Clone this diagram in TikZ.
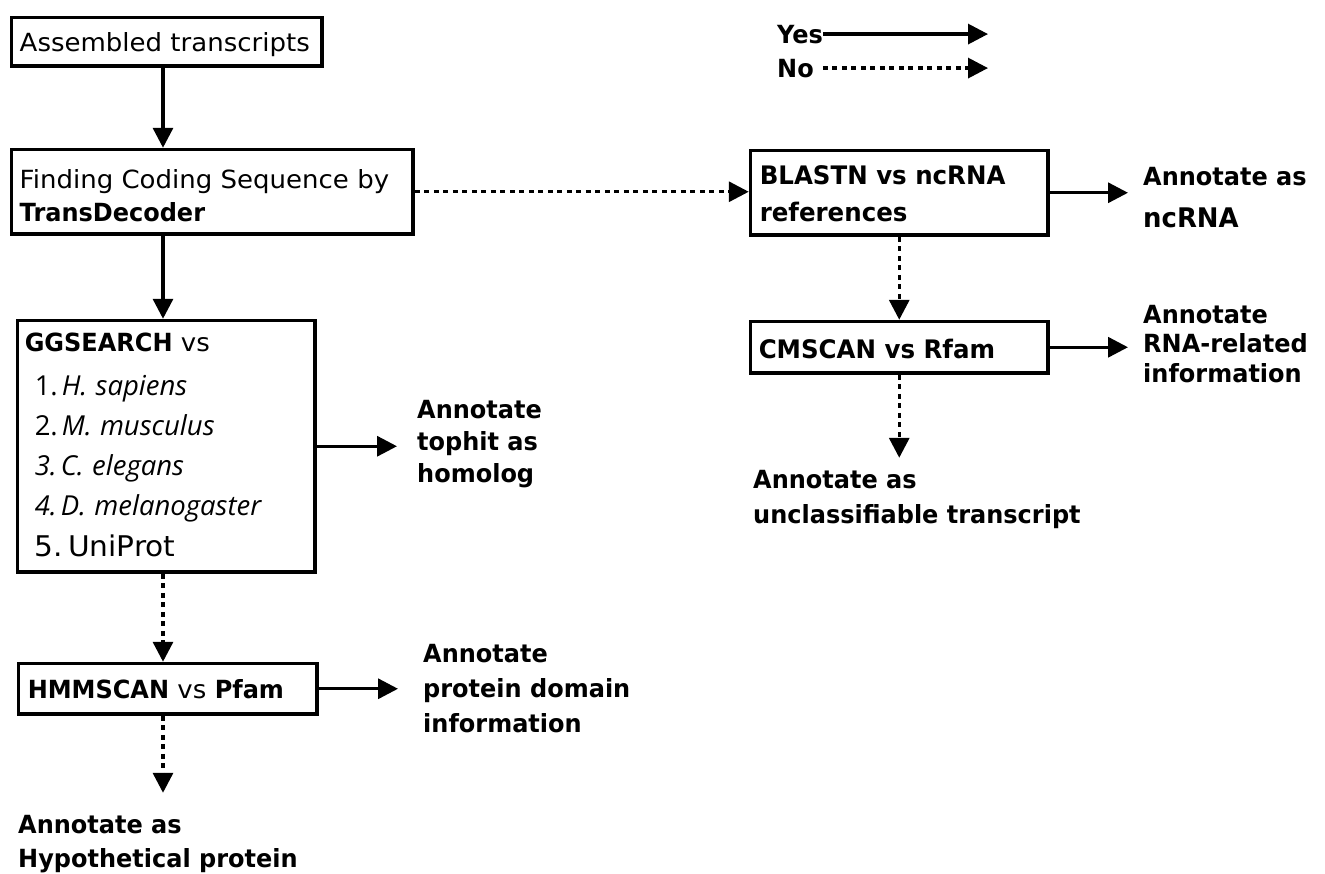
\documentclass[tikz,border=0pt]{standalone}
\usepackage{fontspec}
\setmainfont{DejaVu Sans}[UprightFeatures={FakeStretch=1.04},BoldFeatures={FakeStretch=0.96}]
\newfontfamily\listfont{Open Sans}
\usetikzlibrary{arrows.meta}
\begin{document}
\begin{tikzpicture}[x=1pt,y=-1pt,
  every node/.style={font=\fontsize{25}{33}\selectfont},
  box/.style={draw, line width=3.5pt, rectangle, anchor=north west, align=left, inner ysep=0pt},
  ann/.style={font=\fontsize{25}{33}\selectfont\bfseries, align=left, inner sep=0pt},
  yes/.style={line width=3.3pt, -{Triangle[length=20pt,width=20pt]}},
  no/.style={yes, dash pattern=on 5pt off 4.5pt},
]
\useasboundingbox[fill=white] (0,0) rectangle (1325,873);
\coordinate (colL) at (163,0);
\coordinate (legEnd) at (988,0);

% boxes
\node[box, inner xsep=8.25pt, text width=294pt, text height=34.25pt, text depth=14.25pt] (b1) at (9.75,15.75) {Assembled transcripts};
\node[box, inner xsep=8.25pt, text width=385pt, text height=39.25pt, text depth=45.25pt] (b2) at (9.75,147.75) {Finding Coding Sequence by\\\textbf{TransDecoder}};
\node[box, font=\fontsize{25}{40}\selectfont, inner xsep=7.25pt, text width=283pt, text height=31.25pt, text depth=220.25pt] (gg) at (15.75,318.75)
 {\textbf{GGSEARCH} vs\\[4pt]
  {\listfont\fontsize{27.5}{40}\selectfont\hspace*{10pt}1.\kern4pt\textit{H. sapiens}}\\
  {\listfont\fontsize{27.5}{40}\selectfont\hspace*{10pt}2.\kern4pt\textit{M. musculus}}\\
  {\listfont\fontsize{27.5}{40}\selectfont\itshape\hspace*{10pt}3.\kern4pt C. elegans}\\
  {\listfont\fontsize{27.5}{40}\selectfont\itshape\hspace*{10pt}4.\kern4pt D. melanogaster}\\[1pt]
  {\fontsize{28.5}{40}\selectfont\hspace*{10pt}5.\kern5pt UniProt}};
\node[box, inner xsep=9.25pt, text width=280pt, text height=35.25pt, text depth=15.25pt] (hmm) at (16.75,661.75) {\textbf{HMMSCAN} vs \textbf{Pfam}};
\node[box, font=\fontsize{25.5}{37}\selectfont\bfseries, inner xsep=9.25pt, text width=279pt, text height=34.25pt, text depth=50.25pt] (bl) at (748.75,148.75) {BLASTN vs ncRNA\\references};
\node[box, font=\fontsize{25.5}{33}\selectfont\bfseries, inner xsep=8.25pt, text width=281pt, text height=37.25pt, text depth=14.25pt] (cm) at (748.75,319.75) {CMSCAN vs Rfam};

% annotations (anchor = baseline of last line)
\node[ann, anchor=base west, inner xsep=20pt, font=\fontsize{25}{32}\selectfont\bfseries] (top) at (397,482) {Annotate\\tophit as\\homolog};
\node[ann, anchor=base west, inner xsep=25pt, font=\fontsize{25}{35}\selectfont\bfseries] (pd) at (398,732) {Annotate\\protein domain\\information};
\node[ann, anchor=base west, inner ysep=21.8pt, font=\fontsize{25}{34}\selectfont\bfseries] (hyp) at (18,867) {Annotate as\\Hypothetical protein};
\node[ann, anchor=base west, inner xsep=15pt] (nc) at (1128,227) {Annotate as\\[9pt]{\fontsize{27}{33}\selectfont ncRNA}};
\node[ann, anchor=base west, inner xsep=15pt, font=\fontsize{25}{29.5}\selectfont\bfseries] (rr) at (1128,382) {Annotate\\RNA-related\\information};
\node[ann, anchor=base west, inner ysep=11.8pt, font=\fontsize{25}{35}\selectfont\bfseries] (un) at (753,523) {Annotate as\\unclassifiable transcript};

% legend
\node[ann, anchor=base west] (yesl) at (777,43) {Yes};
\node[ann, anchor=base west] (nol) at (777,77) {No};
\draw[yes] (yesl.east) -- (yesl.east -| legEnd);
\draw[no] ([xshift=9pt]nol.east) -- (nol.east -| legEnd);

% connectors
\draw[yes] (b1.south -| colL) -- (b2.north -| colL);
\draw[yes] (b2.south -| colL) -- (gg.north -| colL);
\draw[yes] (gg.east) -- (gg.east -| top.west);
\draw[no] (gg.south -| colL) -- (hmm.north -| colL);
\draw[yes] (hmm.east) -- (hmm.east -| pd.west);
\draw[no] (hmm.south -| colL) -- (hyp.north -| colL);
\draw[no] (b2.east) -- (b2.east -| bl.west);
\draw[yes] (bl.east) -- (bl.east -| nc.west);
\draw[no] (bl.south) -- (cm.north);
\draw[yes] (cm.east) -- (cm.east -| rr.west);
\draw[no] (cm.south) -- (un.north -| cm.south);
\end{tikzpicture}
\end{document}
